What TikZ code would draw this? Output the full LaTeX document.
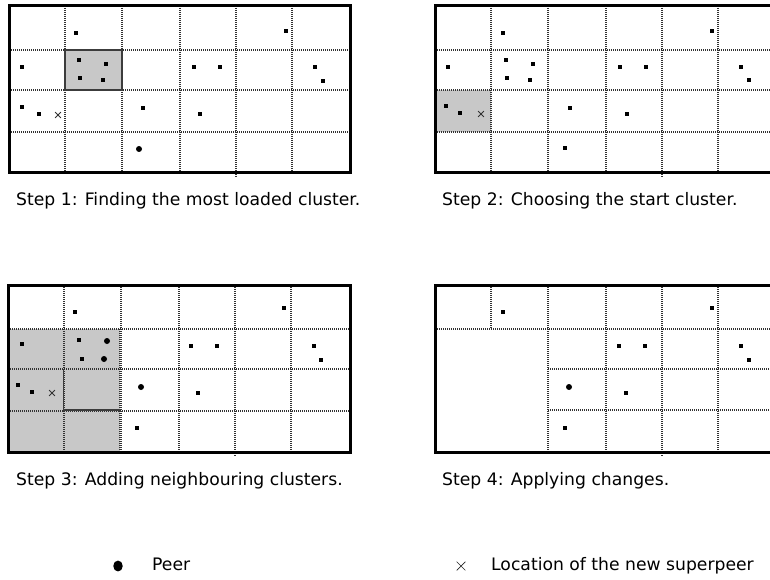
\documentclass[tikz,border=0pt]{standalone}
\usepackage{fontspec}
\setmainfont{DejaVu Sans}
\usetikzlibrary{shapes.misc}
\definecolor{shadegray}{RGB}{200,200,200}
\definecolor{gridgray}{RGB}{50,50,50}
\definecolor{edgegray}{RGB}{60,60,60}
\tikzset{
  gridline/.style={draw=gridgray, line width=1.1pt, dash pattern=on 1pt off 1pt},
  outerbox/.style={draw=black, line width=3pt},
  clusteredge/.style={draw=edgegray, line width=1.4pt},
  sq/.style={rectangle, fill=black, minimum size=4.6pt, inner sep=0pt},
  rd/.style={circle, fill=black, minimum size=6pt, inner sep=0pt},
  sp/.style={cross out, draw=black!80, line width=0.8pt, minimum size=5pt, inner sep=0pt},
  caption/.style={anchor=base west, inner sep=0pt, font=\fontsize{17.2}{20}\selectfont},
}
\newcommand\clustergrid[2]{%
  \foreach \c in {56,113,171,283} \draw[gridline] (#1+\c,#2) -- (#1+\c,#2+167);
  \draw[gridline] (#1+227,#2) -- (#1+227,#2+172);
  \foreach \r in {44,84,126} \draw[gridline] (#1,#2+\r) -- (#1+341,#2+\r);
}
\begin{document}
\begin{tikzpicture}[x=1pt,y=-1pt]
\useasboundingbox (0,0) rectangle (770,580);
\clip (0,0) rectangle (770,580);
\fill[white] (0,0) rectangle (770,580);

% ---------- Panel 1 ----------
\fill[shadegray] (65,50) rectangle (122,90);
\clustergrid{9}{6}
\draw[clusteredge] (65,50) rectangle (122,90);
\foreach \x/\y [count=\i] in {76/33,286/31,22/67,79/60,106/64,80/78,103/80,194/67,220/67,315/67,323/81,22/107,39/114,143/108,200/114}
  \node[sq] (a\i) at (\x,\y) {};
\node[rd] (ar1) at (139,149) {};
\node[sp] (ax) at (58,115) {};
\draw[outerbox] (9,6) rectangle (350,172.5);

% ---------- Panel 2 ----------
\fill[shadegray] (435,90) rectangle (491,132);
\clustergrid{435}{6}
\foreach \x/\y [count=\i] in {503/33,712/31,448/67,506/60,533/64,507/78,530/80,620/67,646/67,741/67,749/80,446/106,460/113,570/108,627/114,565/148}
  \node[sq] (b\i) at (\x,\y) {};
\node[sp] (bx) at (481,114) {};
\draw[outerbox] (776,6) -- (435,6) -- (435,172.5) -- (776,172.5);

% ---------- Panel 3 ----------
\fill[shadegray] (8,329) rectangle (120,452);
\clustergrid{8}{285}
\draw[gridline] (8,329) -- (120,329) -- (120,452);
\draw[clusteredge] (63.5,369) -- (63.5,410) -- (120,410);
\foreach \x/\y [count=\i] in {75/312,284/308,22/344,79/340,82/359,191/346,217/346,314/346,321/360,18/385,32/392,198/393,137/428}
  \node[sq] (c\i) at (\x,\y) {};
\foreach \x/\y [count=\i] in {107/341,104/359,141/387}
  \node[rd] (cr\i) at (\x,\y) {};
\node[sp] (cx) at (52,393) {};
\draw[outerbox] (8,285) rectangle (350,452);

% ---------- Panel 4 ----------
\draw[gridline] (491,285) -- (491,329);
\foreach \c in {548,606,718} \draw[gridline] (\c,285) -- (\c,452);
\draw[gridline] (662,285) -- (662,457);
\draw[gridline] (435,329) -- (776,329);
\foreach \r in {369,410} \draw[gridline] (548,\r) -- (776,\r);
\foreach \x/\y [count=\i] in {503/312,712/308,619/346,645/346,741/346,749/360,626/393,565/428}
  \node[sq] (d\i) at (\x,\y) {};
\node[rd] (dr1) at (569,387) {};
\draw[outerbox] (776,285) -- (435,285) -- (435,452) -- (776,452);

% ---------- Captions ----------
\node[caption] (cap1) at (16,205.5) {Step 1: Finding the most loaded cluster.};
\node[caption] (cap2) at (442,205.5) {Step 2: Choosing the start cluster.};
\node[caption] (cap3) at (16,485.5) {Step 3: Adding neighbouring clusters.};
\node[caption] (cap4) at (442,485.5) {Step 4: Applying changes.};

% ---------- Legend ----------
\node[circle, fill=black, minimum width=9.5pt, minimum height=9.5pt, inner sep=0pt, yscale=1.15] (lgpeer) at (118,566) {};
\node[caption] (lgpeertext) at (152,570.5) {Peer};
\node[cross out, draw=black!85, line width=0.7pt, minimum size=8pt, inner sep=0pt] (lgsp) at (461,566) {};
\node[caption] (lgsptext) at (491,570) {Location of the new superpeer};
\end{tikzpicture}
\end{document}
